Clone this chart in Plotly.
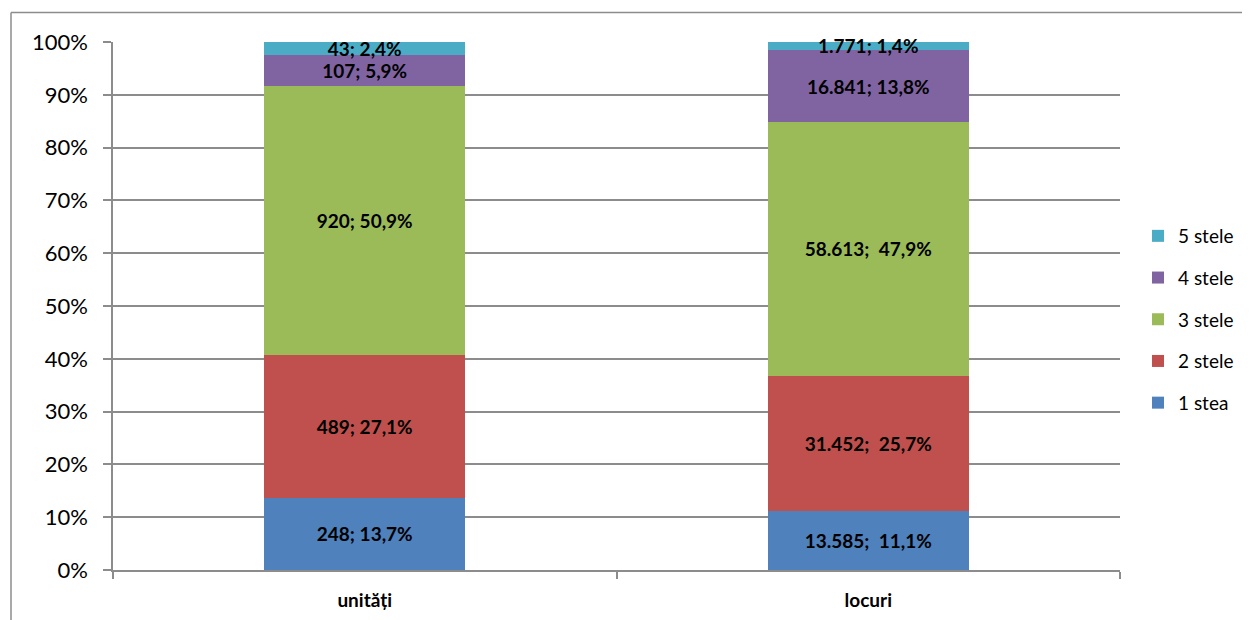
import plotly.graph_objects as go

categories = ["unități", "locuri"]
series_names = ["1 stea", "2 stele", "3 stele", "4 stele", "5 stele"]
values = {
    "1 stea": [248, 13585],
    "2 stele": [489, 31452],
    "3 stele": [920, 58613],
    "4 stele": [107, 16841],
    "5 stele": [43, 1771],
}
labels = {
    "1 stea": ["248; 13,7%", "13.585;  11,1%"],
    "2 stele": ["489; 27,1%", "31.452;  25,7%"],
    "3 stele": ["920; 50,9%", "58.613;  47,9%"],
    "4 stele": ["107; 5,9%", "16.841; 13,8%"],
    "5 stele": ["43; 2,4%", "1.771; 1,4%"],
}
colors = ["#4F81BD", "#C0504D", "#9BBB59", "#8064A2", "#4BACC6"]
y_ticks = [0, 10, 20, 30, 40, 50, 60, 70, 80, 90, 100]
y_ticktext = [f"{v}%" for v in y_ticks]

FONT = "Lato, 'Open Sans', sans-serif"
# page body has an 8px margin, so the figure is drawn 8px smaller
W, H = 1242, 612
L, R, T, B = 105, 130, 34, 50
pw, ph = W - L - R, H - T - B

fig = go.Figure()
for i, (name, col) in enumerate(zip(series_names, colors)):
    fig.add_trace(go.Bar(
        name=name, x=categories, y=values[name],
        marker=dict(color=col, line=dict(width=0)),
        text=labels[name], textposition="inside", insidetextanchor="middle",
        textangle=0,
        textfont=dict(family=FONT, size=19, color="black", weight="bold"),
        constraintext="none", cliponaxis=False,
        legendgroup=name, legendrank=10 - i,
        width=0.4,
    ))

grid = "#8C8C8C"
fig.update_layout(
    width=W, height=H,
    margin=dict(l=L, r=R, t=T, b=B, autoexpand=False),
    barmode="stack", barnorm="percent",
    plot_bgcolor="white", paper_bgcolor="white",
    font=dict(family=FONT, color="black"),
    showlegend=True,
    legend=dict(
        x=(1130 - L) / pw, y=(H - B - 209) / ph, xanchor="left", yanchor="top",
        traceorder="grouped", tracegroupgap=14,
        font=dict(family=FONT, size=19, color="black"),
        itemwidth=30,
    ),
    xaxis=dict(
        showline=True, linecolor=grid, linewidth=1.5,
        ticks="outside", tickson="boundaries", ticklen=7, tickcolor=grid,
        tickwidth=1.5, ticklabelstandoff=12,
        tickfont=dict(family=FONT, size=19, color="black", weight="bold"),
        showgrid=False,
    ),
    yaxis=dict(
        range=[0, 100], tickmode="array", tickvals=y_ticks, ticktext=y_ticktext,
        showline=True, linecolor=grid, linewidth=1.5,
        ticks="outside", ticklen=8, tickcolor=grid, tickwidth=1.5,
        ticklabelstandoff=11,
        showgrid=True, gridcolor=grid, gridwidth=1.5,
        tickfont=dict(family=FONT, size=22, color="black"),
        zeroline=False,
    ),
)

# outer chart border (top and left visible)
fig.add_shape(type="line", xref="paper", yref="paper",
              x0=(3 - L) / pw, x1=(1241 - L) / pw,
              y0=(H - B - 4.5) / ph, y1=(H - B - 4.5) / ph,
              line=dict(color=grid, width=1.5))
fig.add_shape(type="line", xref="paper", yref="paper",
              x0=(3 - L) / pw, x1=(3 - L) / pw,
              y0=(H - B - 4.5) / ph, y1=-B / ph - 0.05,
              line=dict(color=grid, width=1.5))

fig.write_html("out.html")
